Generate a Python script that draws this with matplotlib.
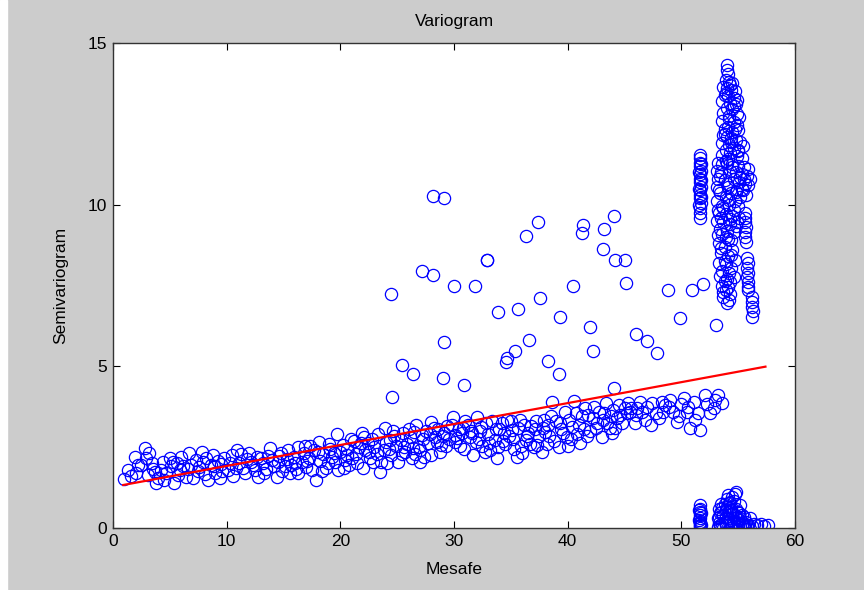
import matplotlib
matplotlib.use("Agg")
import matplotlib.pyplot as plt
import numpy as np

# lag distance / semivariance pairs
bant_x = [1.0, 1.3, 1.6, 1.9, 2.2, 2.5, 2.8, 2.9, 3.1, 3.2, 3.5, 3.7, 3.8, 4.0, 4.2, 4.5, 4.7, 5.0, 5.1, 5.3,
          5.4, 5.7, 5.9, 6.2, 6.4, 6.7, 6.9, 7.0, 7.3, 7.5, 7.8, 7.9, 8.1, 8.4, 8.6, 8.8, 8.9, 9.2, 9.4, 9.6,
          9.8, 10.1, 10.3, 10.6, 10.9, 11.1, 11.4, 11.6, 11.8, 12.0, 12.3, 12.5, 12.8, 13.0, 13.2, 13.5, 13.8, 14.0, 14.2, 14.4,
          14.6, 14.8, 15.1, 15.3, 15.4, 15.7, 15.9, 16.1, 16.3, 16.3, 16.6, 16.8, 17.0, 17.2, 17.5, 17.7, 17.9, 18.1, 18.2, 18.5,
          18.7, 18.9, 19.1, 19.3, 19.7, 19.8, 20.0, 20.2, 20.4, 20.6, 20.8, 21.0, 21.2, 21.4, 21.6, 21.9, 22.0, 22.2, 22.4, 22.6,
          22.8, 23.0, 23.2, 23.5, 23.6, 23.9, 24.0, 24.3, 24.5, 24.7, 24.9, 25.1, 25.3, 25.5, 25.7, 25.9, 26.1, 26.3, 26.5, 26.7,
          26.9, 27.0, 27.0, 27.3, 27.5, 27.7, 27.9, 28.0, 28.0, 28.3, 28.6, 28.9, 29.1, 29.4, 29.6, 29.9, 30.1, 30.1, 30.4, 30.7,
          30.9, 31.2, 31.4, 31.7, 31.9, 32.0, 32.3, 32.5, 32.8, 33.0, 33.2, 33.6, 33.8, 34.0, 34.2, 34.5, 34.8, 35.0, 35.3, 35.6,
          35.8, 36.0, 36.3, 36.5, 36.8, 37.0, 37.3, 37.5, 37.9, 38.0, 38.3, 38.6, 38.8, 39.2, 39.4, 39.8, 39.9, 40.1, 40.4, 40.6,
          40.8, 41.1, 41.3, 41.5, 41.8, 42.0, 42.3, 42.6, 43.0, 43.2, 43.4, 43.7, 44.0, 44.3, 44.75, 45.0, 45.2, 45.3, 45.5, 45.9,
          46.1, 46.4, 46.8, 47.4, 47.8, 48.3, 48.4, 48.9, 49.3, 49.6, 50.2, 50.5, 50.8, 51.1, 51.2, 51.5, 51.6, 52.1, 52.5, 52.9,
          53.25, 53.55]
bant_y = [1.51, 1.79, 1.62, 2.21, 1.95, 1.95, 2.46, 2.15, 1.64, 2.31, 1.84, 1.72, 1.38, 1.54, 1.80, 1.47, 1.69, 2.15, 1.91, 2.05,
          1.38, 1.64, 1.79, 1.91, 1.58, 2.31, 1.95, 1.54, 2.10, 1.76, 2.36, 2.05, 1.66, 1.48, 1.96, 2.26, 1.91, 2.07, 1.54, 1.75,
          2.15, 1.79, 2.00, 1.62, 2.41, 2.00, 1.86, 1.69, 2.14, 2.31, 1.95, 1.78, 1.59, 2.15, 2.02, 1.84, 2.46, 2.10, 1.93, 1.59,
          2.22, 2.31, 1.91, 2.12, 2.41, 1.95, 2.20, 1.84, 2.52, 1.69, 2.05, 2.32, 1.90, 2.18, 1.79, 2.42, 1.48, 2.67, 2.06, 2.28,
          1.85, 2.00, 2.45, 2.20, 2.90, 1.79, 2.35, 2.58, 2.10, 2.45, 1.95, 2.16, 2.70, 2.30, 2.52, 2.93, 1.85, 2.40, 2.62, 2.15,
          2.75, 2.50, 2.28, 1.74, 2.03, 3.10, 2.65, 2.45, 2.26, 2.85, 2.55, 2.05, 2.72, 2.95, 2.36, 2.60, 2.82, 2.15, 2.97, 3.20,
          2.50, 2.41, 2.05, 2.75, 3.00, 2.62, 2.90, 3.27, 2.26, 2.80, 3.05, 2.57, 2.95, 3.15, 2.75, 3.44, 2.67, 2.88, 3.05, 2.93,
          2.45, 3.20, 2.80, 2.26, 2.67, 3.44, 3.00, 2.55, 3.25, 2.90, 2.40, 2.72, 2.16, 3.05, 3.24, 2.60, 2.85, 3.30, 2.45, 3.10,
          3.34, 2.31, 2.72, 2.95, 3.15, 2.50, 2.57, 2.85, 3.34, 2.98, 3.20, 3.91, 2.70, 2.51, 3.05, 3.60, 2.80, 3.35, 3.13, 3.93,
          2.90, 2.62, 3.45, 3.70, 3.50, 3.00, 3.75, 3.25, 2.82, 3.55, 3.86, 3.10, 3.65, 3.40, 3.24, 3.70, 3.55, 3.86, 3.60, 3.24,
          3.70, 3.91, 3.34, 3.86, 3.55, 3.91, 3.60, 3.75, 3.60, 3.29, 4.01, 3.60, 3.08, 3.91, 3.34, 3.55, 3.03, 4.11, 3.55, 3.70,
          4.11, 3.86]

ek_x = [2.0, 3.4, 4.4, 6.0, 7.6, 9.0, 10.5, 11.3, 12.7, 13.3, 14.9, 15.6, 16.9, 17.3, 18.4, 19.0, 19.5, 20.3, 20.9, 21.5,
        22.1, 22.9, 23.3, 24.1, 24.6, 25.4, 26.0, 26.6, 27.4, 28.2, 28.8, 29.3, 29.8, 30.5, 31.0, 31.5, 32.2, 32.7, 33.3, 33.9,
        34.4, 34.7, 35.2, 35.5, 36.2, 36.7, 37.2, 37.7, 38.2, 38.5, 39.0, 39.6, 40.0, 40.7, 41.0, 41.7, 42.2, 42.8, 43.5, 43.9,
        44.5, 44.2, 46.0, 47.0, 47.3, 48.0, 49.0, 49.8, 50.0, 52.3, 53.0,
        5.6, 6.6, 8.2, 9.5, 10.8, 12.1, 13.6, 14.5, 16.0, 17.1, 18.0, 19.4, 20.6, 21.8, 22.5, 23.8, 24.4, 25.6, 26.4, 27.2,
        28.5, 29.0, 30.3, 30.8, 31.6, 32.4, 33.1, 33.7, 34.3, 35.1, 35.9, 36.4, 37.1, 37.8, 38.4, 39.3, 40.3, 41.4, 42.5, 43.1,
        43.8, 44.6, 45.6, 46.5, 48.6, 50.6]
ek_y = [1.70, 2.00, 2.05, 2.20, 1.90, 1.70, 2.25, 2.30, 2.20, 1.70, 1.75, 1.70, 2.55, 2.55, 1.75, 2.60, 2.05, 1.85, 2.75, 2.00,
        2.80, 2.05, 2.90, 2.00, 3.00, 2.30, 3.05, 2.30, 2.20, 3.10, 2.35, 2.55, 3.20, 2.55, 3.30, 3.00, 2.75, 2.35, 3.30, 2.50,
        2.95, 3.35, 2.75, 2.20, 3.20, 2.60, 3.30, 2.35, 2.60, 3.45, 3.30, 2.95, 2.55, 3.55, 3.20, 2.85, 3.40, 3.60, 3.25, 2.95,
        3.80, 3.10, 3.50, 3.75, 3.20, 3.40, 3.95, 3.45, 3.85, 3.85, 3.95,
        2.02, 1.82, 2.18, 1.98, 1.85, 2.05, 2.22, 2.05, 2.00, 2.08, 2.35, 2.32, 2.25, 2.62, 2.35, 2.40, 2.72, 2.50, 2.48, 2.88,
        2.65, 2.85, 2.78, 3.10, 2.95, 3.12, 2.62, 3.05, 2.70, 3.02, 2.55, 2.85, 3.05, 3.10, 2.85, 3.25, 2.75, 3.05, 3.10, 3.35,
        3.45, 3.50, 3.70, 3.60, 3.80, 3.75]

dagilik_x = [28.18, 29.15, 37.42, 36.3, 41.37, 41.29, 44.08, 43.22, 43.08, 44.16, 45.04, 32.87, 32.9, 27.16, 28.18, 29.97,
             31.88, 40.44, 45.12, 48.85, 50.9, 51.93, 24.43, 37.54, 35.63, 33.84, 39.35, 41.99, 49.86, 29.12, 36.6, 35.34,
             34.69, 34.57, 38.24, 42.23, 45.98, 46.95, 47.89, 25.4, 26.37, 29.0, 30.91, 39.21, 44.05, 24.57, 53.05]
dagilik_y = [10.27, 10.22, 9.47, 9.03, 9.37, 9.11, 9.65, 9.25, 8.63, 8.28, 8.28, 8.28, 8.30, 7.94, 7.84, 7.49,
             7.49, 7.49, 7.58, 7.36, 7.36, 7.54, 7.23, 7.10, 6.78, 6.69, 6.53, 6.22, 6.49, 5.76, 5.81, 5.46,
             5.25, 5.14, 5.15, 5.46, 6.01, 5.77, 5.42, 5.03, 4.77, 4.63, 4.41, 4.77, 4.33, 4.06, 6.28]

sutun51_x = [51.6, 51.65, 51.6, 51.7, 51.6, 51.65, 51.6, 51.7, 51.6, 51.65, 51.6, 51.7, 51.6, 51.65, 51.6, 51.65,
             51.55, 51.7, 51.55, 51.7, 51.55, 51.7]
sutun51_y = [9.60, 9.75, 9.90, 10.05, 10.20, 10.30, 10.45, 10.55, 10.70, 10.80, 10.95, 11.05, 11.20, 11.30, 11.45, 11.55,
             10.00, 10.25, 10.50, 10.75, 11.00, 11.25]

sutun54_x = [54.0, 54.05, 54.1, 53.9, 54.2, 54.5, 53.7, 54.0, 54.4, 54.7, 53.8, 54.1, 54.6, 54.9, 53.6, 54.3, 54.8,
             54.0, 54.5, 53.7, 54.9, 54.2, 55.1, 53.6, 54.6, 54.9, 54.1, 55.0, 53.8, 54.5,
             53.7, 54.0, 54.4, 54.8, 55.2, 53.6, 54.2, 55.4, 54.6, 53.9, 55.0, 54.3, 53.6, 54.9, 55.3, 54.1,
             53.2, 53.6, 54.0, 54.5, 55.0, 55.5, 55.9, 53.1, 53.5, 54.3, 54.8, 55.3, 55.8, 56.0, 53.2, 53.8, 54.6,
             55.1, 55.6, 53.1, 54.1, 54.9, 55.4, 55.9, 53.4, 54.4, 53.9, 55.2, 55.7, 53.1, 54.7, 54.2, 55.0, 53.6, 53.2,
             53.3, 53.9, 54.5, 55.1, 53.1, 53.7, 54.3, 54.8, 53.4, 54.0, 54.6, 53.2, 53.9,
             55.6, 55.6, 55.6, 55.65, 55.6, 55.6, 55.65,
             54.4, 53.3, 53.8, 54.5, 53.5, 54.1, 54.7, 53.3, 53.9, 54.4, 53.6, 54.2, 53.4, 54.6, 53.8, 54.3,
             55.8, 55.85, 55.8, 55.9, 55.8, 55.85, 55.9, 55.9,
             53.6, 54.1, 53.9, 54.3, 53.7, 54.2, 54.0,
             56.2, 56.25, 56.2, 56.3, 56.25,
             54.3, 53.9, 54.6, 54.2, 53.8, 54.7, 54.4, 55.0, 53.9, 54.5, 55.2, 53.4, 54.0, 54.8, 55.5, 53.3,
             54.2, 55.3, 53.7, 54.6, 53.5, 54.3, 54.9, 53.6, 54.1, 53.5, 54.4, 53.8, 54.0, 53.7]
sutun54_y = [14.32, 14.18, 14.05, 13.85, 13.80, 13.75, 13.65, 13.60, 13.55, 13.50, 13.40, 13.35, 13.30, 13.25, 13.20, 13.15, 13.10,
             13.00, 12.95, 12.85, 12.80, 12.75, 12.70, 12.60, 12.55, 12.45, 12.40, 12.30, 12.35, 12.25,
             12.15, 12.10, 12.05, 12.00, 11.95, 11.90, 11.85, 11.80, 11.75, 11.70, 11.65, 11.60, 11.55, 11.50, 11.45, 11.40,
             11.30, 11.25, 11.30, 11.25, 11.20, 11.15, 11.10, 11.05, 11.00, 11.05, 11.00, 10.95, 10.90, 10.80, 10.80, 10.75, 10.80,
             10.70, 10.65, 10.55, 10.55, 10.50, 10.45, 10.60, 10.35, 10.35, 10.25, 10.25, 10.30, 10.10, 10.10, 10.00, 9.95, 9.95, 9.85,
             9.75, 9.70, 9.65, 9.60, 9.50, 9.45, 9.40, 9.35, 9.25, 9.20, 9.15, 9.05, 9.00,
             9.74, 9.60, 9.45, 9.30, 9.15, 9.00, 8.85,
             8.90, 8.80, 8.70, 8.60, 8.50, 8.40, 8.30, 8.20, 8.15, 8.05, 7.95, 7.90, 7.80, 7.75, 7.65, 7.60,
             8.35, 8.20, 8.05, 7.90, 7.75, 7.60, 7.45, 7.36,
             7.50, 7.45, 7.35, 7.25, 7.15, 7.05, 6.96,
             7.15, 7.00, 6.85, 6.70, 6.54,
             13.70, 13.45, 13.05, 12.65, 12.20, 12.35, 11.95, 11.70, 11.35, 11.15, 10.85, 10.90, 10.65, 10.40, 10.80, 10.45,
             10.15, 10.50, 9.90, 9.85, 9.60, 9.55, 9.45, 9.10, 8.95, 8.65, 8.45, 8.25, 7.70, 7.30]

sifir_x = [51.6, 51.6, 51.65, 51.6, 51.65, 51.6, 51.6, 51.65, 51.6, 51.6,
           53.2, 53.3, 53.2, 53.4, 53.3, 53.5, 53.4,
           53.7, 53.8, 53.7, 53.9, 53.8, 54.0, 54.1, 53.9, 54.1, 54.0,
           54.4, 54.3, 54.5, 54.4, 54.6, 54.7, 54.8, 54.6, 54.9, 54.8, 54.5,
           55.0, 55.1, 55.0, 55.2, 55.3, 55.4, 55.2,
           55.6, 55.7, 55.9, 56.0, 55.5,
           56.4, 56.7, 57.0, 57.3, 57.6,
           51.55, 51.7, 51.55, 51.7, 53.3, 53.5, 53.6, 53.9, 54.2, 54.3, 54.5, 54.7, 54.9, 55.1, 55.3, 55.5,
           53.6, 54.0, 54.4, 54.8, 55.2, 53.4, 54.2, 55.0, 55.8, 56.2]
sifir_y = [0.00, 0.05, 0.10, 0.15, 0.20, 0.30, 0.40, 0.50, 0.60, 0.72,
           0.02, 0.15, 0.30, 0.45, 0.60, 0.75, 0.08,
           0.00, 0.20, 0.40, 0.55, 0.75, 0.90, 1.02, 0.10, 0.30, 0.65,
           0.00, 0.25, 0.45, 0.65, 0.85, 1.05, 1.12, 0.15, 0.35, 0.60, 0.95,
           0.05, 0.25, 0.50, 0.70, 0.40, 0.15, 0.02,
           0.05, 0.20, 0.10, 0.30, 0.35,
           0.12, 0.08, 0.12, 0.05, 0.10,
           0.25, 0.45, 0.55, 0.08, 0.35, 0.50, 0.12, 0.35, 0.50, 0.80, 0.10, 0.40, 0.20, 0.45, 0.10, 0.05,
           0.62, 0.20, 0.55, 0.30, 0.30, 0.00, 0.78, 0.15, 0.05, 0.05]

# fitted model line
model_x = [0.9, 57.4]
model_y = [1.33, 4.99]

plt.rcParams['font.family'] = ['Liberation Sans', 'DejaVu Sans']

fig = plt.figure(figsize=(8.64, 5.9), dpi=100)
fig.patch.set_facecolor('#cccccc')
# white margin on the left edge of the screenshot
fig.add_artist(plt.Rectangle((0, 0), 7 / 864, 1, transform=fig.transFigure, color='white', zorder=-1))

ax = fig.add_axes([113 / 864, 62 / 590, 682 / 864, 485 / 590])

tum_x = np.concatenate([bant_x, ek_x, dagilik_x, sutun51_x, sutun54_x, sifir_x])
tum_y = np.concatenate([bant_y, ek_y, dagilik_y, sutun51_y, sutun54_y, sifir_y])

ax.plot(tum_x, tum_y, 'o', mfc='none', mec=(0, 0, 1), ms=8.8, mew=0.9, linestyle='none')
ax.plot(model_x, model_y, color=(1, 0, 0), lw=1.6)

ax.set_xlim(0, 60)
ax.set_ylim(0, 15)
ax.set_xticks([0, 10, 20, 30, 40, 50, 60])
ax.set_yticks([0, 5, 10, 15])
ax.tick_params(direction='in', top=True, right=True, length=5, width=0.8, labelsize=12.5, pad=4)
for s in ax.spines.values():
    s.set_linewidth(1.0)
    s.set_color('#333333')

ax.set_title("Variogram", fontsize=12.5, pad=12)
ax.set_xlabel("Mesafe", fontsize=12.5, labelpad=10)
ax.set_ylabel("Semivariogram", fontsize=12.5, labelpad=14)

fig.savefig("out.png", dpi=100, facecolor=fig.get_facecolor())
